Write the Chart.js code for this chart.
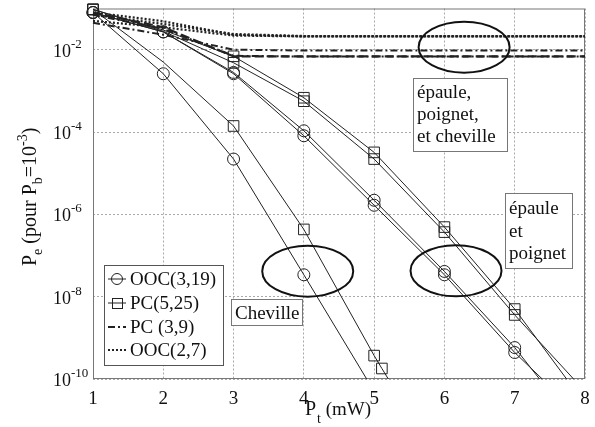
<!DOCTYPE html>
<html>
<head>
<meta charset="utf-8">
<script src="https://cdn.jsdelivr.net/npm/chart.js@4.4.1/dist/chart.umd.min.js"></script>
<style>
  html, body { margin: 0; padding: 0; background: #fff; }
  #wrap { width: 595px; height: 427px; }
</style>
</head>
<body>
<div id="wrap"><canvas id="chart"></canvas></div>
<script>
// x positions (Pt in mW)
const xFull = [1, 2, 3, 4, 5, 6, 7, 8];
const xOocCheville = [1, 2, 3, 4, 5];
const xPcCheville = [1, 2, 3, 4, 5, 5.11, 6];

// OOC(3,19) - circles
const oocCheville = [8e-2, 2.6e-3, 2.2e-5, 3.4e-8, 5e-11];
const oocEpaule = [8e-2, 2.7e-2, 2.8e-3, 1.07e-4, 2.2e-6, 4.1e-8, 5.8e-10, 4e-12];
const oocPoignet = [8e-2, 2.7e-2, 2.6e-3, 8.1e-5, 1.66e-6, 3.4e-8, 4.4e-10, 1e-11];

// PC(5,25) - squares
const pcCheville = [9.5e-2, 5e-3, 1.4e-4, 4.3e-7, 3.7e-10, 1.8e-10, 6e-13];
const pcEpaule = [9.5e-2, 3e-2, 6.9e-3, 6.8e-4, 3.2e-5, 4.9e-7, 5e-9, 2.5e-11];
const pcPoignet = [9.5e-2, 2.8e-2, 4.8e-3, 5.6e-4, 2.2e-5, 3.7e-7, 3.6e-9, 5e-11];

// PC(3,9) - dash-dot
const pc39A = [4.5e-2, 2.3e-2, 1.0e-2, 9.5e-3, 9.5e-3, 9.5e-3, 9.5e-3, 9.5e-3];
const pc39B = [8e-2, 3.5e-2, 6.9e-3, 6.9e-3, 6.9e-3, 6.9e-3, 6.9e-3, 6.9e-3];
const pc39C = [7e-2, 3.2e-2, 7.1e-3, 6.8e-3, 6.8e-3, 6.8e-3, 6.8e-3, 6.8e-3];

// OOC(2,7) - dotted
const ooc27A = [8e-2, 4.9e-2, 2.3e-2, 2.1e-2, 2.1e-2, 2.1e-2, 2.1e-2, 2.1e-2];
const ooc27B = [5e-2, 3.5e-2, 2.2e-2, 2.1e-2, 2.1e-2, 2.1e-2, 2.1e-2, 2.1e-2];
const ooc27C = [7e-2, 4.2e-2, 2.4e-2, 2.15e-2, 2.15e-2, 2.15e-2, 2.15e-2, 2.15e-2];

// ticks
const xTicks = [1, 2, 3, 4, 5, 6, 7, 8];
const yTickExps = [-2, -4, -6, -8, -10];

const legendLabels = ['OOC(3,19)', 'PC(5,25)', 'PC (3,9)', 'OOC(2,7)'];

const SERIF = '"Liberation Serif", "Times New Roman", serif';
const INK = '#222';
const DASHDOT = [7, 3, 2, 3];
const DOTTED = [2, 2];

function pts(xs, ys) {
  return ys.map((v, i) => ({ x: xs[i], y: v }));
}

function series(xs, ys, kind) {
  const d = {
    data: pts(xs, ys),
    borderColor: INK,
    borderWidth: 1,
    pointRadius: 0,
    pointBorderColor: INK,
    pointBackgroundColor: 'rgba(0,0,0,0)',
    pointBorderWidth: 1,
    tension: 0,
    fill: false,
    clip: { left: 10, top: 10, right: 0, bottom: 0 }
  };
  if (kind === 'circle') { d.pointStyle = 'circle'; d.pointRadius = 6; }
  // no square drawn at x = 2 in the original figure
  if (kind === 'rect') { d.pointStyle = 'rect'; d.pointRadius = xs.map(v => (v === 2 ? 0 : 7.5)); }
  if (kind === 'dashdot') { d.borderDash = DASHDOT; d.borderWidth = 2; }
  if (kind === 'dashed') { d.borderDash = [9, 4]; d.borderWidth = 2.2; }
  if (kind === 'dotted') { d.borderDash = DOTTED; d.borderWidth = 2.2; }
  return d;
}

// draws ellipses, text boxes, legend, tick labels and axis titles
const overlay = {
  id: 'overlay',
  beforeDatasetsDraw(chart) {
    const { ctx, chartArea: a } = chart;
    ctx.save();
    ctx.strokeStyle = '#777';
    ctx.lineWidth = 1;
    ctx.strokeRect(a.left + 0.5, a.top + 0.5, a.right - a.left - 1, a.bottom - a.top - 1);
    ctx.restore();
  },
  afterDraw(chart) {
    const { ctx, scales: { x, y } } = chart;
    ctx.save();

    // ellipses
    ctx.strokeStyle = '#111';
    ctx.lineWidth = 2;
    [[4.055, -7.38], [6.165, -7.37], [6.28, -1.94]].forEach(([cx, e]) => {
      ctx.beginPath();
      ctx.ellipse(x.getPixelForValue(cx), y.getPixelForValue(Math.pow(10, e)), 45.5, 25.5, 0, 0, Math.PI * 2);
      ctx.stroke();
    });

    // text boxes
    function box(l, t, r, b, lines, ys) {
      ctx.fillStyle = '#fff';
      ctx.fillRect(l, t, r - l, b - t);
      ctx.strokeStyle = '#777';
      ctx.lineWidth = 1;
      ctx.strokeRect(l + 0.5, t + 0.5, r - l, b - t);
      ctx.fillStyle = '#111';
      ctx.font = '19px ' + SERIF;
      ctx.textAlign = 'left';
      ctx.textBaseline = 'alphabetic';
      lines.forEach((s, i) => ctx.fillText(s, l + 4, ys[i]));
    }
    box(413, 78, 507, 151, ['épaule,', 'poignet,', 'et cheville'], [98, 120, 142]);
    box(505, 193, 572, 268, ['épaule', 'et', 'poignet'], [214, 237, 259]);
    box(231, 299, 302, 325, ['Cheville'], [319]);

    // legend
    ctx.fillStyle = '#fff';
    ctx.fillRect(104, 265, 119, 100);
    ctx.strokeStyle = '#555';
    ctx.lineWidth = 1;
    ctx.strokeRect(104.5, 265.5, 119, 100);
    const ly = [279, 303, 327, 350];
    const styles = [
      { dash: [], w: 1, marker: 'circle' },
      { dash: [], w: 1, marker: 'rect' },
      { dash: DASHDOT, w: 2, marker: null },
      { dash: DOTTED, w: 2, marker: null }
    ];
    styles.forEach((s, i) => {
      ctx.strokeStyle = INK;
      ctx.lineWidth = s.w;
      ctx.setLineDash(s.dash);
      ctx.beginPath();
      ctx.moveTo(108, ly[i]);
      ctx.lineTo(126, ly[i]);
      ctx.stroke();
      ctx.setLineDash([]);
      ctx.lineWidth = 1;
      if (s.marker === 'circle') {
        ctx.beginPath();
        ctx.arc(117, ly[i], 5.5, 0, Math.PI * 2);
        ctx.stroke();
      } else if (s.marker === 'rect') {
        ctx.strokeRect(112.5, ly[i] - 4.5, 10, 10);
      }
      ctx.fillStyle = '#111';
      ctx.font = '19px ' + SERIF;
      ctx.textBaseline = 'middle';
      ctx.textAlign = 'left';
      ctx.fillText(legendLabels[i], 130, ly[i] + 1);
    });

    // y tick labels: 10^n
    ctx.textBaseline = 'alphabetic';
    ctx.fillStyle = '#111';
    yTickExps.forEach(e => {
      const py = y.getPixelForValue(Math.pow(10, e));
      ctx.font = '18px ' + SERIF;
      ctx.fillText('10', 53, py + 7);
      ctx.font = '13px ' + SERIF;
      ctx.fillText(String(e), 71, py - 2);
    });

    // x tick labels
    ctx.font = '19px ' + SERIF;
    ctx.textAlign = 'center';
    xTicks.forEach(v => {
      ctx.fillText(String(v), x.getPixelForValue(v), 404);
    });

    // x title
    ctx.textAlign = 'left';
    ctx.font = '20px ' + SERIF;
    ctx.fillText('P', 305, 415);
    ctx.font = '14px ' + SERIF;
    ctx.fillText('t', 317, 423);
    ctx.font = '19px ' + SERIF;
    ctx.fillText(' (mW)', 321, 415);

    // y title (rotated)
    ctx.translate(36, 266);
    ctx.rotate(-Math.PI / 2);
    let cx = 0;
    const seg = (s, size, dy) => {
      ctx.font = size + 'px ' + SERIF;
      ctx.fillText(s, cx, dy);
      cx += ctx.measureText(s).width;
    };
    seg('P', 20, 0);
    seg('e', 14, 6);
    seg(' (pour P', 20, 0);
    seg('b', 14, 6);
    seg('=10', 20, 0);
    seg('-3', 14, -9);
    seg(')', 20, 0);

    ctx.restore();
  }
};

const gridOpts = { color: '#aaa', lineWidth: 1, drawTicks: false };
const borderOpts = { display: false, dash: [2, 2] };

new Chart(document.getElementById('chart'), {
  type: 'line',
  data: {
    datasets: [
      series(xOocCheville, oocCheville, 'circle'),
      series(xFull, oocEpaule, 'circle'),
      series(xFull, oocPoignet, 'circle'),
      series(xPcCheville, pcCheville, 'rect'),
      series(xFull, pcEpaule, 'rect'),
      series(xFull, pcPoignet, 'rect'),
      series(xFull, pc39A, 'dashdot'),
      series(xFull, pc39B, 'dashed'),
      series(xFull, pc39C, 'dashdot'),
      series(xFull, ooc27A, 'dotted'),
      series(xFull, ooc27B, 'dotted'),
      series(xFull, ooc27C, 'dotted')
    ]
  },
  options: {
    responsive: true,
    maintainAspectRatio: false,
    animation: false,
    devicePixelRatio: 1,
    layout: { padding: { left: 93, top: 7, right: 10, bottom: 48 } },
    plugins: { legend: { display: false }, tooltip: { enabled: false } },
    scales: {
      x: {
        type: 'linear',
        min: 1,
        max: 8,
        ticks: { display: false, stepSize: 1 },
        afterBuildTicks: s => { s.ticks = xTicks.map(v => ({ value: v })); },
        grid: gridOpts,
        border: borderOpts
      },
      y: {
        type: 'logarithmic',
        min: 1e-10,
        max: 1e-1,
        ticks: { display: false },
        afterBuildTicks: s => { s.ticks = yTickExps.map(e => ({ value: Math.pow(10, e) })); },
        grid: gridOpts,
        border: borderOpts
      }
    }
  },
  plugins: [overlay]
});
</script>
</body>
</html>
